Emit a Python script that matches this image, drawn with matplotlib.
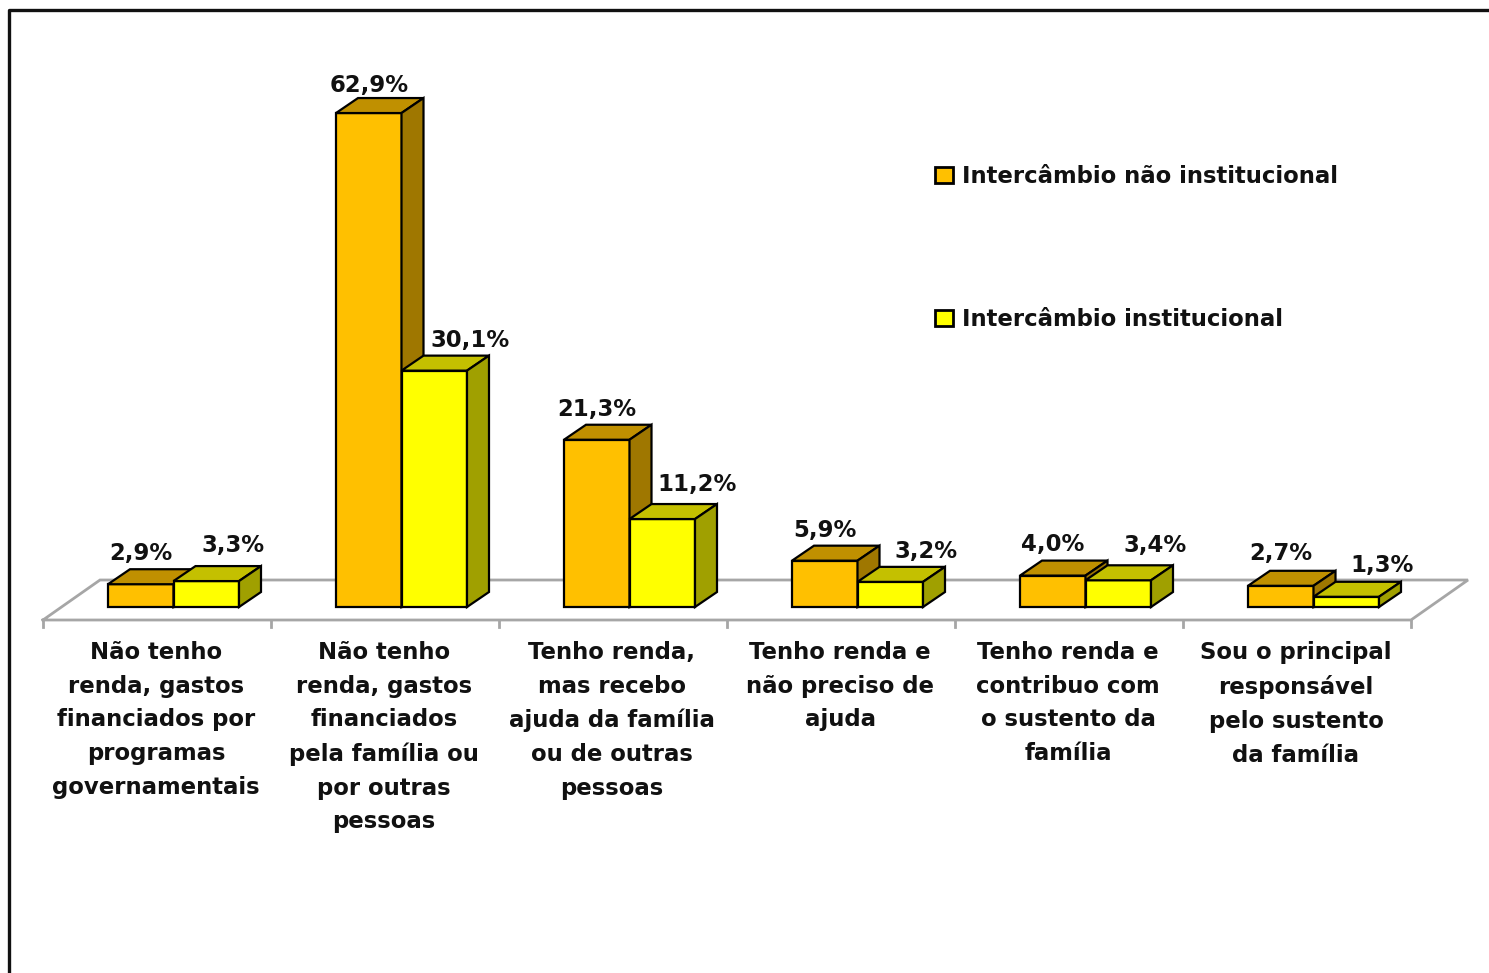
import matplotlib
matplotlib.use("Agg")
import matplotlib.pyplot as plt
from matplotlib.lines import Line2D
from matplotlib.patches import Patch, Polygon

# data
categories = [
    "Não tenho\nrenda, gastos\nfinanciados por\nprogramas\ngovernamentais",
    "Não tenho\nrenda, gastos\nfinanciados\npela família ou\npor outras\npessoas",
    "Tenho renda,\nmas recebo\najuda da família\nou de outras\npessoas",
    "Tenho renda e\nnão preciso de\najuda",
    "Tenho renda e\ncontribuo com\no sustento da\nfamília",
    "Sou o principal\nresponsável\npelo sustento\nda família",
]
nao_inst = [2.9, 62.9, 21.3, 5.9, 4.0, 2.7]
inst = [3.3, 30.1, 11.2, 3.2, 3.4, 1.3]
labels_nao = ["2,9%", "62,9%", "21,3%", "5,9%", "4,0%", "2,7%"]
labels_inst = ["3,3%", "30,1%", "11,2%", "3,2%", "3,4%", "1,3%"]
series_names = ["Intercâmbio não institucional", "Intercâmbio institucional"]

# label nudges in pixels, above the back edge of each bar
lift_nao = [16, 13, 15, 15, 16, 17]
lift_inst = [21, 15, 20, 15, 20, 16]
shift_inst = [27, 36, 35, 36, 37, 36]

W, H = 1489, 973
PX_X = 228.0     # pixels per category
PX_Y = 7.853     # pixels per percent
BASE = 607       # pixel row of value 0
LEFT = 43        # pixel column of the axis start

ORANGE = ("#FFC000", "#C09000", "#9F7700")
YELLOW = ("#FFFF00", "#C4C000", "#A0A000")
GRAY = "#A6A6A6"
FONT = "DejaVu Sans"
SIZE = 16.4

fig = plt.figure(figsize=(W / 100, H / 100), dpi=100, facecolor="white")
ax = fig.add_axes([0, 0, 1, 1])
ax.set_xlim(-0.5 - LEFT / PX_X, -0.5 + (W - LEFT) / PX_X)
ax.set_ylim((BASE - H) / PX_Y, BASE / PX_Y)
ax.axis("off")


def dx(px):
    return px / PX_X


def dy(px):
    return px / PX_Y


# outer frame of the pasted chart
fig.add_artist(Line2D([8.5 / W, 8.5 / W, 1], [0, 1 - 10 / H, 1 - 10 / H],
                      color="#111111", lw=2.4))

# floor
n = len(categories)
x0, x1 = -0.5, n - 0.5
y_front, y_back = dy(-13), dy(27)
ax.plot([x0, x0 + dx(57), x1 + dx(57), x1, x0],
        [y_front, y_back, y_back, y_front, y_front],
        color=GRAY, lw=2, solid_joinstyle="miter", zorder=1)
for i in range(n + 1):
    ax.plot([i - 0.5, i - 0.5], [y_front, y_front - dy(7)], color=GRAY, lw=2, zorder=1)

bar_w = 65.5 / PX_X
depth_x, depth_y = dx(22), dy(15)


def bar3d(left, value, colors, z):
    ax.bar(left, value, width=bar_w, align="edge", facecolor=colors[0],
           edgecolor="black", linewidth=1.6, zorder=z)
    right = left + bar_w
    top = Polygon([(left, value), (left + depth_x, value + depth_y),
                   (right + depth_x, value + depth_y), (right, value)],
                  facecolor=colors[1], edgecolor="black", linewidth=1.6, zorder=z)
    side = Polygon([(right, 0), (right + depth_x, depth_y),
                    (right + depth_x, value + depth_y), (right, value)],
                   facecolor=colors[2], edgecolor="black", linewidth=1.6, zorder=z)
    ax.add_patch(top)
    ax.add_patch(side)


for i in range(n):
    left = i - 0.5 + dx(65)
    bar3d(left, nao_inst[i], ORANGE, 3 + i * 2)
    bar3d(left + bar_w, inst[i], YELLOW, 4 + i * 2)

    ax.text(left + bar_w / 2, nao_inst[i] + depth_y + dy(lift_nao[i]), labels_nao[i],
            ha="center", va="center", fontsize=SIZE, fontweight="bold",
            family=FONT, color="#111111", zorder=30)
    ax.text(left + 1.5 * bar_w + dx(shift_inst[i]), inst[i] + depth_y + dy(lift_inst[i]),
            labels_inst[i], ha="center", va="center", fontsize=SIZE, fontweight="bold",
            family=FONT, color="#111111", zorder=30)

    ax.text(i - dx(1), dy(-34), categories[i], ha="center", va="top", fontsize=SIZE,
            fontweight="bold", family=FONT, color="#111111", linespacing=1.595)

handles = [Patch(facecolor=ORANGE[0], edgecolor="black", linewidth=2),
           Patch(facecolor=YELLOW[0], edgecolor="black", linewidth=2)]
leg = fig.legend(handles, series_names, loc="upper left",
                 bbox_to_anchor=(935 / W, 1 - 165 / H), frameon=False,
                 prop={"family": FONT, "weight": "bold", "size": SIZE},
                 handlelength=0.78, handleheight=0.7, handletextpad=0.4,
                 labelspacing=5.25, borderpad=0, borderaxespad=0, labelcolor="#111111")

fig.savefig("out.png", dpi=100)
